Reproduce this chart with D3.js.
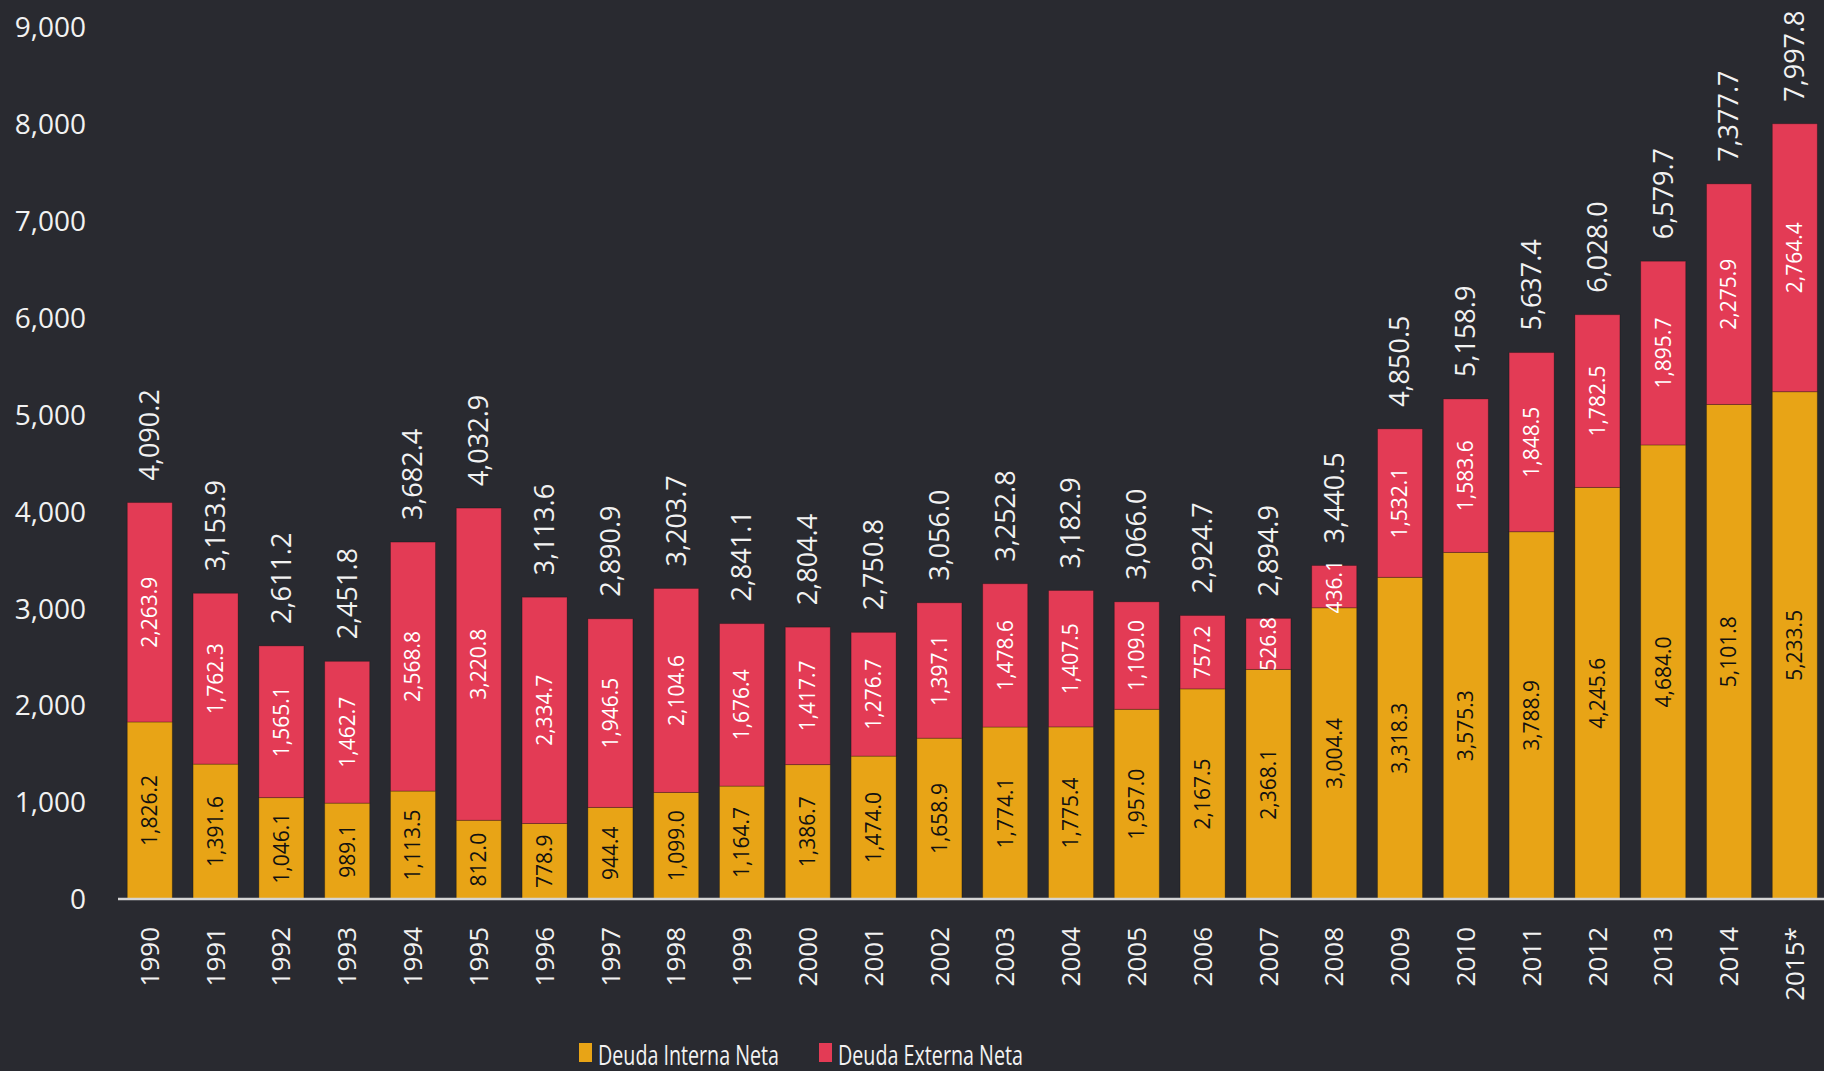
<!DOCTYPE html>
<html>
<head>
<meta charset="utf-8">
<script src="https://cdn.jsdelivr.net/npm/d3@7"></script>
<style>
  html, body { margin: 0; padding: 0; background: #292a30; }
  svg { display: block; }
  .tick-label { fill: #f2f2f2; font-family: "Open Sans", sans-serif; }
</style>
</head>
<body>
<div id="chart"></div>
<script>
  /* -----------------------
      DATA
   -------------------------- */
  var years = ['1990', '1991', '1992', '1993', '1994', '1995', '1996', '1997', '1998', '1999',
    '2000', '2001', '2002', '2003', '2004', '2005', '2006', '2007', '2008', '2009',
    '2010', '2011', '2012', '2013', '2014', '2015*'];

  var interna = [1826.2, 1391.6, 1046.1, 989.1, 1113.5, 812.0, 778.9, 944.4, 1099.0, 1164.7,
    1386.7, 1474.0, 1658.9, 1774.1, 1775.4, 1957.0, 2167.5, 2368.1, 3004.4, 3318.3,
    3575.3, 3788.9, 4245.6, 4684.0, 5101.8, 5233.5];

  var externa = [2263.9, 1762.3, 1565.1, 1462.7, 2568.8, 3220.8, 2334.7, 1946.5, 2104.6, 1676.4,
    1417.7, 1276.7, 1397.1, 1478.6, 1407.5, 1109.0, 757.2, 526.8, 436.1, 1532.1,
    1583.6, 1848.5, 1782.5, 1895.7, 2275.9, 2764.4];

  var totals = [4090.2, 3153.9, 2611.2, 2451.8, 3682.4, 4032.9, 3113.6, 2890.9, 3203.7, 2841.1,
    2804.4, 2750.8, 3056.0, 3252.8, 3182.9, 3066.0, 2924.7, 2894.9, 3440.5, 4850.5,
    5158.9, 5637.4, 6028.0, 6579.7, 7377.7, 7997.8];

  var yTicks = [0, 1000, 2000, 3000, 4000, 5000, 6000, 7000, 8000, 9000];

  var seriesNames = ['Deuda Interna Neta', 'Deuda Externa Neta'];
  var colors = ['#e8a416', '#e33b55'];

  var data = years.map(function(y, i) {
    return { year: y, interna: interna[i], externa: externa[i], total: totals[i] };
  });

  /* -----------------------
      SIZES
   -------------------------- */
  var W = 1824, H = 1071;
  var baseY = 899, topY = 26.6;
  var x0 = 118;

  var fmt = d3.format(',.1f');
  var fmtTick = d3.format(',');

  var svg = d3.select('#chart').append('svg')
    .attr('width', W)
    .attr('height', H);

  svg.append('rect')
    .attr('width', W)
    .attr('height', H)
    .attr('fill', '#292a30');

  //-- SCALES
  var scaleX = d3.scaleBand()
    .domain(years)
    .range([x0, 1826.6])
    .paddingInner(0.316)
    .paddingOuter(0.141);

  var scaleY = d3.scaleLinear()
    .domain([0, 9000])
    .range([baseY, topY]);

  //-- Y AXIS (labels only)
  var axisY = svg.append('g')
    .attr('transform', 'translate(86,0)')
    .call(d3.axisLeft(scaleY).tickValues(yTicks).tickFormat(fmtTick).tickSize(0).tickPadding(0));
  axisY.select('.domain').remove();
  axisY.selectAll('text')
    .attr('class', 'tick-label')
    .attr('font-size', 28)
    .attr('dy', '0.35em');

  //-- STACKED BARS
  var stack = d3.stack().keys(['interna', 'externa']);
  var layers = stack(data);

  var groups = svg.append('g').selectAll('g')
    .data(layers)
    .join('g')
    .attr('fill', function(d, i) { return colors[i]; });

  groups.selectAll('rect')
    .data(function(d) { return d; })
    .join('rect')
    .attr('x', function(d) { return scaleX(d.data.year); })
    .attr('width', scaleX.bandwidth())
    .attr('y', function(d) { return scaleY(d[1]); })
    .attr('height', function(d) { return scaleY(d[0]) - scaleY(d[1]); })
    .attr('stroke', 'rgba(0,0,0,0.25)')
    .attr('stroke-width', 1);

  //-- SEGMENT LABELS
  groups.each(function(layer, li) {
    d3.select(this).selectAll('text')
      .data(layer)
      .join('text')
      .attr('transform', function(d) {
        var cx = scaleX(d.data.year) + scaleX.bandwidth() / 2;
        var cy = (scaleY(d[0]) + scaleY(d[1])) / 2;
        return 'translate(' + cx + ',' + cy + ') rotate(-90)';
      })
      .attr('text-anchor', 'middle')
      .attr('dy', '0.35em')
      .attr('font-family', '"Open Sans", sans-serif')
      .attr('font-size', 21)
      .attr('fill', li === 0 ? '#111111' : '#ffffff')
      .text(function(d) { return fmt(d.data[layer.key]); });
  });

  //-- TOTAL LABELS
  svg.append('g').selectAll('text')
    .data(data)
    .join('text')
    .attr('transform', function(d) {
      var cx = scaleX(d.year) + scaleX.bandwidth() / 2;
      var cy = scaleY(d.interna + d.externa) - 22;
      return 'translate(' + cx + ',' + cy + ') rotate(-90)';
    })
    .attr('text-anchor', 'start')
    .attr('dy', '0.35em')
    .attr('font-family', '"Open Sans", sans-serif')
    .attr('font-size', 27)
    .attr('fill', '#f2f2f2')
    .text(function(d) { return fmt(d.total); });

  //-- BASELINE
  svg.append('line')
    .attr('x1', x0)
    .attr('x2', W)
    .attr('y1', baseY)
    .attr('y2', baseY)
    .attr('stroke', '#d4d4d4')
    .attr('stroke-width', 2.5);

  //-- X LABELS
  svg.append('g').selectAll('text')
    .data(years)
    .join('text')
    .attr('transform', function(d) {
      var cx = scaleX(d) + scaleX.bandwidth() / 2;
      return 'translate(' + cx + ',' + (baseY + 28) + ') rotate(-90)';
    })
    .attr('text-anchor', 'end')
    .attr('dy', '0.35em')
    .attr('font-family', '"Open Sans", sans-serif')
    .attr('font-size', 26)
    .attr('fill', '#f2f2f2')
    .text(function(d) { return d; });

  //-- LEGEND
  var legendX = [579, 819];
  var legendLen = [181, 185];
  var legend = svg.append('g').selectAll('g')
    .data(seriesNames)
    .join('g')
    .attr('transform', function(d, i) { return 'translate(' + legendX[i] + ',1043)'; });

  legend.append('rect')
    .attr('width', 13)
    .attr('height', 19)
    .attr('fill', function(d, i) { return colors[i]; });

  legend.append('text')
    .attr('x', 19)
    .attr('y', 22)
    .attr('font-family', '"Open Sans", sans-serif')
    .attr('font-size', 27)
    .attr('fill', '#f2f2f2')
    .attr('textLength', function(d, i) { return legendLen[i]; })
    .attr('lengthAdjust', 'spacingAndGlyphs')
    .text(function(d) { return d; });
</script>
</body>
</html>
